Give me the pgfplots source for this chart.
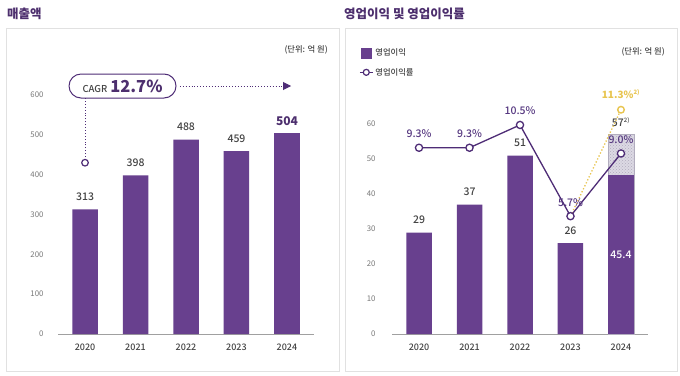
\documentclass[border=0pt]{standalone}
\usepackage{pgfplots}
\pgfplotsset{compat=1.18}
\usetikzlibrary{patterns,arrows.meta}
\usepackage{fontspec}
\setmainfont{Noto Sans CJK KR}
\newfontfamily\med{Noto Sans CJK KR Medium}
\pgfplotsset{/pgf/number format/assume math mode=true}

\definecolor{barP}{RGB}{104,64,142}
\definecolor{lineP}{RGB}{78,44,118}
\definecolor{titleP}{RGB}{77,47,110}
\definecolor{pctP}{RGB}{85,55,128}
\definecolor{yel}{RGB}{232,197,80}
\definecolor{hatchbg}{RGB}{220,217,228}
\definecolor{hatchfg}{RGB}{178,173,190}
\definecolor{panelgray}{RGB}{225,225,225}
\definecolor{axisgray}{RGB}{160,160,160}
\definecolor{txtgray}{RGB}{68,68,68}
\definecolor{ytgray}{RGB}{120,120,120}

\newcommand{\fs}[1]{\fontsize{#1}{#1}\selectfont}

\pgfplotsset{
  sqlegend/.style={legend image code/.code={\fill[barP] (1pt,-5pt) rectangle (11pt,5pt);}},
  linelegend/.style={legend image code/.code={\draw[##1, mark repeat=2, mark phase=2] plot coordinates {(0pt,0pt) (6.5pt,0pt) (13pt,0pt)};}},
}

\begin{document}
\begin{tikzpicture}
\fill[white] (0pt,0pt) rectangle (680pt,-375pt);
\useasboundingbox (0pt,0pt) rectangle (680pt,-375pt);

% panels
\draw[panelgray, line width=0.9pt] (6pt,-28pt) rectangle (339pt,-371pt);
\draw[panelgray, line width=0.9pt] (345pt,-28pt) rectangle (677pt,-371pt);

% titles
\node[anchor=west, inner sep=0pt, text=titleP, font=\bfseries\fs{12.5}] at (7pt,-14pt) {매출액};
\node[anchor=west, inner sep=0pt, text=titleP, font=\bfseries\fs{12.5}] at (344pt,-14pt) {영업이익 및 영업이익률};

% units
\node[anchor=east, inner sep=0pt, text=txtgray, font=\med\fs{8.3}] at (328pt,-50pt) {(단위: 억 원)};
\node[anchor=east, inner sep=0pt, text=txtgray, font=\med\fs{8.3}] at (665pt,-52pt) {(단위: 억 원)};

% ---------------- left chart ----------------
\begin{axis}[
  at={(58pt,-334pt)}, anchor=south west, scale only axis,
  width=256pt, height=239pt,
  xmin=-0.535, xmax=4.535, ymin=0, ymax=600,
  axis x line*=bottom, axis y line*=left,
  x axis line style={draw=axisgray, line width=0.8pt, -},
  y axis line style={draw=none},
  xtick={0,...,4}, xticklabels={2020,2021,2022,2023,2024},
  ytick={0,100,...,600},
  tick style={draw=none},
  xticklabel style={font=\med\fs{9}, text=txtgray, yshift=-6pt},
  yticklabel style={font=\fs{7.8}, text=ytgray, xshift=-11pt},
  bar width=25.5pt,
  clip=false,
]
\addplot[ybar, bar shift=0pt, fill=barP, draw=none,
  nodes near coords,
  nodes near coords style={font=\med\fs{10.5}, text=txtgray, yshift=5pt}]
  coordinates {(0,313) (1,398) (2,488) (3,459)};
\addplot[ybar, bar shift=0pt, fill=barP, draw=none,
  nodes near coords,
  nodes near coords style={font=\bfseries\fs{12}, text=titleP, yshift=4pt}]
  coordinates {(4,504)};
% CAGR annotation
\draw[lineP, dotted, line width=0.9pt] (axis cs:0,430) -- (axis cs:0,592);
\addplot[lineP, mark=*, mark size=3.3pt, mark options={fill=white, draw=lineP, line width=1.2pt}]
  coordinates {(0,430)};
\node[draw=lineP, line width=1pt, rounded corners=12pt, minimum width=107pt, minimum height=24pt, inner sep=0pt]
  at (axis cs:0.743,622.6) {\textcolor{txtgray}{\med\fs{9.5}CAGR}\hspace{3pt}\textcolor{titleP}{\bfseries\fs{16.5}12.7\%}};
\draw[lineP, dotted, line width=0.9pt, -{Triangle[length=8pt,width=8pt]}] (axis cs:1.88,622.6) -- (axis cs:4.08,622.6);
\end{axis}

% ---------------- right chart (bars) ----------------
\begin{axis}[
  at={(392pt,-334pt)}, anchor=south west, scale only axis,
  width=256pt, height=210pt,
  xmin=-0.535, xmax=4.535, ymin=0, ymax=60,
  axis x line*=bottom, axis y line*=left,
  x axis line style={draw=axisgray, line width=0.8pt, -},
  y axis line style={draw=none},
  xtick={0,...,4}, xticklabels={2020,2021,2022,2023,2024},
  ytick={0,10,...,60},
  tick style={draw=none},
  xticklabel style={font=\med\fs{9}, text=txtgray, yshift=-6pt},
  yticklabel style={font=\fs{7.8}, text=ytgray, xshift=-13pt},
  bar width=25.5pt,
  clip=false,
  legend style={at={(-0.129,1.369)}, anchor=north west, draw=none, fill=none,
    font=\med\fs{8.3}, text=txtgray, inner sep=0pt, row sep=7pt},
  legend cell align=left,
]
\addlegendimage{sqlegend}
\addlegendentry{영업이익}
\addlegendimage{linelegend, lineP, line width=1.2pt, mark=*, mark size=3pt, mark options={fill=white, draw=lineP, line width=1.2pt}}
\addlegendentry{영업이익률}

\addplot[forget plot, ybar, bar shift=0pt, fill=hatchbg, draw=hatchfg, line width=0.4pt,
  postaction={pattern=crosshatch dots, pattern color=hatchfg},
  nodes near coords={\pgfmathprintnumber{\pgfplotspointmeta}\textsuperscript{\fs{6}2)}},
  nodes near coords style={font=\med\fs{10.5}, text=txtgray, yshift=4pt}]
  coordinates {(4,57)};
\addplot[forget plot, ybar, bar shift=0pt, fill=barP, draw=none,
  nodes near coords,
  nodes near coords style={font=\med\fs{10.5}, text=txtgray, yshift=5pt}]
  coordinates {(0,29) (1,37) (2,51) (3,26)};
\addplot[forget plot, ybar, bar shift=0pt, fill=barP, draw=none]
  coordinates {(4,45.4)};
\node[font=\med\fs{10.5}, text=white] at (axis cs:4,22.7) {45.4};
\end{axis}

% ---------------- right chart (margin line) ----------------
\begin{axis}[
  at={(392pt,-334pt)}, anchor=south west, scale only axis,
  width=256pt, height=210pt,
  xmin=-0.535, xmax=4.535, ymin=-0.5, ymax=10.55,
  hide axis, clip=false,
]
\addplot[yel, dotted, line width=1.3pt, mark=none] coordinates {(3,5.7) (4,11.3)};
\addplot[yel, only marks, mark=*, mark size=3.3pt, mark options={fill=white, draw=yel, line width=1.4pt},
  nodes near coords={\pgfmathprintnumber[fixed,fixed zerofill,precision=1]{\pgfplotspointmeta}\%\textsuperscript{\fs{6}2)}},
  nodes near coords style={font=\bfseries\fs{10}, text=yel, yshift=7pt}]
  coordinates {(4,11.3)};
\addplot[lineP, line width=1.3pt, mark=*, mark size=3.6pt, mark options={fill=white, draw=lineP, line width=1.3pt},
  nodes near coords={\pgfmathprintnumber[fixed,fixed zerofill,precision=1]{\pgfplotspointmeta}\%},
  nodes near coords style={font=\med\fs{10.5}, text=pctP, yshift=6pt}]
  coordinates {(0,9.3) (1,9.3) (2,10.5) (3,5.7) (4,9.0)};
\end{axis}
\end{tikzpicture}
\end{document}
